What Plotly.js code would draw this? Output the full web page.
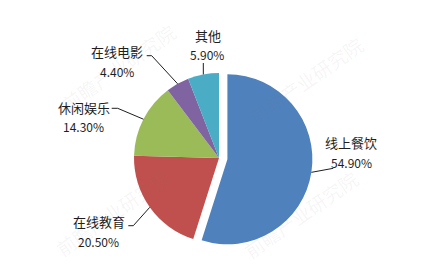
<!DOCTYPE html>
<html>
<head>
<meta charset="utf-8">
<script src="https://cdn.plot.ly/plotly-3.0.1.min.js"></script>
<style>
  html, body { margin: 0; padding: 0; background: #fff; }
  #chart { width: 435px; height: 279px; }
</style>
</head>
<body>
<div id="chart"></div>
<script>
// Market share by segment (%)
const categories = ['线上餐饮', '在线教育', '休闲娱乐', '在线电影', '其他'];
const shares = [54.9, 20.5, 14.3, 4.4, 5.9];
const sliceColors = ['#4F81BD', '#C0504D', '#9BBB59', '#8064A2', '#4BACC6'];
const pulls = [0.1, 0, 0, 0, 0];

// Canvas and pie geometry (pixels)
const W = 435, H = 279;
const CX = 219, CY = 158, R = 85;
const maxPull = Math.max(...pulls);
const half = R * (1 + maxPull);

// Label placement (pixel centres) and leader-line elbow / end points
const labelPos = [
  { name: [350.8, 142.7], value: [351.2, 162.3], leader: [[333.3, 168.3]] },
  { name: [98.5, 221.0],  value: [98.3, 241.0],  leader: [[133.3, 225.7], [128.3, 225.7]] },
  { name: [83.7, 107.7],  value: [83.0, 126.7],  leader: [[117.7, 108.3], [111.7, 108.3]] },
  { name: [116.7, 51.7],  value: [116.7, 71.0],  leader: [[151.7, 55.7], [146.7, 55.7]] },
  { name: [208.0, 35.7],  value: [207.3, 54.3],  leader: [[203.3, 63.0]] }
];

const px = x => x / W;
const py = y => 1 - y / H;

// Slice mid-angles (clockwise from 12 o'clock) from the data
const total = shares.reduce((a, b) => a + b, 0);
let cum = 0;
const midAngles = shares.map(v => {
  const a0 = cum / total * 2 * Math.PI;
  cum += v;
  const a1 = cum / total * 2 * Math.PI;
  return (a0 + a1) / 2;
});

const shapes = [];
const annotations = [];
const textFont = { family: '"Noto Sans CJK SC", "Noto Sans", sans-serif', color: '#1e1e1e' };

// Faint publisher watermark (drawn first so the labels sit on top)
const wmText = '前瞻产业研究院';
const wmSpots = [[118, 68], [305, 80], [112, 212], [300, 214]];
wmSpots.forEach(p => {
  annotations.push({ xref: 'paper', yref: 'paper', x: px(p[0]), y: py(p[1]),
                     xanchor: 'center', yanchor: 'middle', showarrow: false, textangle: -35,
                     text: wmText,
                     font: { family: '"Noto Sans CJK SC", sans-serif', size: 19, color: 'rgba(120,120,120,0.07)' } });
});

categories.forEach((name, i) => {
  const a = midAngles[i];
  const off = pulls[i] * R;
  const ox = CX + off * Math.sin(a), oy = CY - off * Math.cos(a);
  const ex = ox + R * Math.sin(a), ey = oy - R * Math.cos(a);
  const pts = [[ex, ey]].concat(labelPos[i].leader);
  const path = pts.map((p, k) => (k ? 'L' : 'M') + px(p[0]).toFixed(5) + ',' + py(p[1]).toFixed(5)).join(' ');
  shapes.push({ type: 'path', xref: 'paper', yref: 'paper', path: path,
                line: { color: '#1e1e1e', width: 1 } });
  annotations.push({ xref: 'paper', yref: 'paper', x: px(labelPos[i].name[0]), y: py(labelPos[i].name[1]),
                     xanchor: 'center', yanchor: 'middle', showarrow: false, text: name,
                     font: Object.assign({ size: 13 }, textFont) });
  annotations.push({ xref: 'paper', yref: 'paper', x: px(labelPos[i].value[0]), y: py(labelPos[i].value[1]),
                     xanchor: 'center', yanchor: 'middle', showarrow: false,
                     text: shares[i].toFixed(2) + '%',
                     font: Object.assign({ size: 12 }, textFont) });
});

const trace = {
  type: 'pie',
  labels: categories,
  values: shares,
  sort: false,
  direction: 'clockwise',
  rotation: 0,
  pull: pulls,
  marker: { colors: sliceColors, line: { width: 0 } },
  textinfo: 'none',
  hoverinfo: 'label+percent',
  showlegend: false,
  domain: {
    x: [px(CX - half), px(CX + half)],
    y: [py(CY + half), py(CY - half)]
  }
};

const layout = {
  width: W, height: H,
  margin: { l: 0, r: 0, t: 0, b: 0 },
  paper_bgcolor: '#ffffff',
  plot_bgcolor: '#ffffff',
  showlegend: false,
  shapes: shapes,
  annotations: annotations
};

Plotly.newPlot('chart', [trace], layout, { displayModeBar: false, staticPlot: true });
</script>
</body>
</html>
